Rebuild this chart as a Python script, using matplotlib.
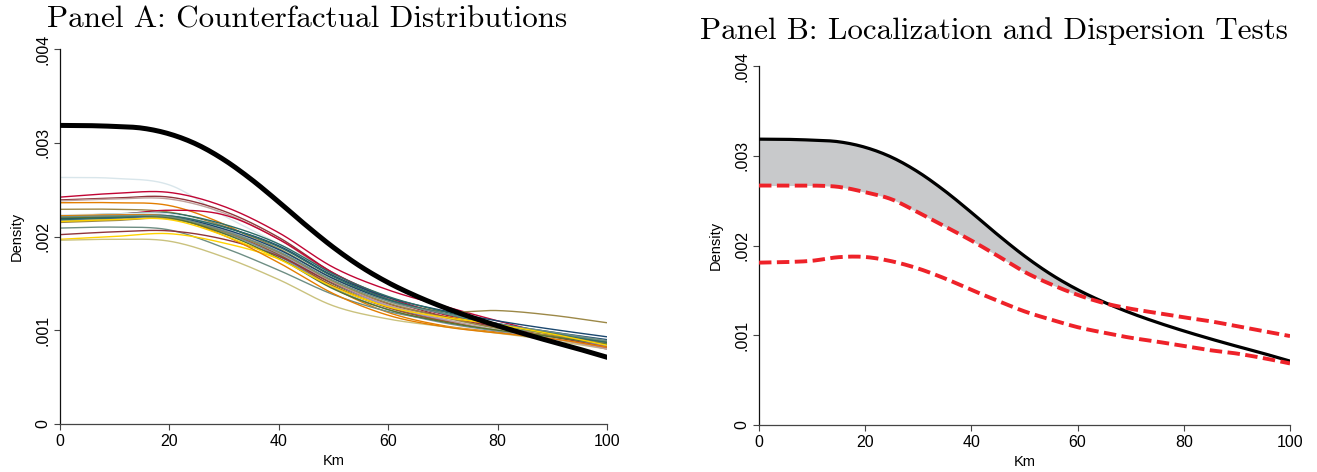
import numpy as np
import matplotlib
matplotlib.use("Agg")
import matplotlib.pyplot as plt

# ---- data (density values in units of 1e-3) ----
km_coarse = [0, 10, 20, 30, 40, 50, 60, 70, 80, 90, 100]

# Panel A: counterfactual densities (Stata s2color palette)
cf_colors = [
    "#d9e6eb", "#c10534", "#90353b", "#bfa19c", "#e37e00", "#9c8847",
    "#c10534", "#1a476f", "#55752f", "#2d6d66", "#6e8e84", "#ffd200",
    "#cac27e", "#938dd2", "#a0522d", "#7b92a8", "#d9e6eb", "#90353b",
    "#bfa19c", "#e37e00", "#9c8847", "#1a476f", "#55752f", "#2d6d66",
    "#6e8e84", "#ffd200",
]
cf_values = [
    [2.63, 2.62, 2.55, 2.22, 1.92, 1.57, 1.30, 1.13, 1.00, 0.91, 0.83],
    [2.42, 2.46, 2.47, 2.32, 2.04, 1.67, 1.43, 1.26, 1.10, 0.95, 0.81],
    [2.39, 2.41, 2.42, 2.27, 1.99, 1.61, 1.33, 1.15, 1.01, 0.93, 0.84],
    [2.38, 2.40, 2.40, 2.25, 1.97, 1.59, 1.31, 1.14, 1.00, 0.92, 0.82],
    [2.36, 2.36, 2.33, 2.13, 1.82, 1.45, 1.19, 1.05, 0.98, 0.91, 0.84],
    [2.29, 2.29, 2.26, 2.11, 1.87, 1.55, 1.33, 1.20, 1.21, 1.16, 1.08],
    [2.19, 2.23, 2.28, 2.23, 1.97, 1.61, 1.35, 1.17, 1.04, 0.93, 0.80],
    [2.21, 2.22, 2.22, 2.10, 1.90, 1.58, 1.35, 1.21, 1.10, 1.01, 0.93],
    [2.16, 2.18, 2.19, 2.04, 1.81, 1.49, 1.25, 1.11, 1.01, 0.94, 0.86],
    [2.22, 2.24, 2.25, 2.13, 1.92, 1.60, 1.36, 1.20, 1.07, 0.97, 0.88],
    [2.09, 2.10, 2.07, 1.88, 1.64, 1.38, 1.20, 1.10, 1.03, 0.96, 0.88],
    [1.97, 2.00, 2.03, 1.93, 1.76, 1.47, 1.26, 1.15, 1.06, 0.95, 0.83],
    [1.96, 1.97, 1.95, 1.78, 1.54, 1.26, 1.12, 1.04, 0.97, 0.89, 0.80],
    [2.18, 2.20, 2.21, 2.06, 1.82, 1.50, 1.26, 1.11, 1.00, 0.92, 0.84],
    [2.20, 2.21, 2.21, 2.05, 1.80, 1.47, 1.24, 1.10, 1.01, 0.94, 0.87],
    [2.17, 2.19, 2.20, 2.04, 1.79, 1.45, 1.22, 1.08, 0.99, 0.91, 0.83],
    [2.23, 2.24, 2.24, 2.09, 1.85, 1.53, 1.29, 1.13, 1.01, 0.92, 0.82],
    [2.02, 2.05, 2.06, 1.97, 1.79, 1.50, 1.28, 1.15, 1.03, 0.93, 0.82],
    [2.21, 2.22, 2.22, 2.07, 1.83, 1.51, 1.27, 1.12, 1.00, 0.91, 0.80],
    [2.22, 2.23, 2.21, 2.01, 1.72, 1.39, 1.16, 1.04, 0.97, 0.91, 0.82],
    [2.15, 2.17, 2.19, 2.05, 1.83, 1.52, 1.29, 1.14, 1.02, 0.94, 0.86],
    [2.19, 2.20, 2.21, 2.08, 1.86, 1.55, 1.32, 1.18, 1.07, 0.98, 0.90],
    [2.20, 2.21, 2.20, 2.03, 1.77, 1.44, 1.22, 1.09, 1.00, 0.93, 0.85],
    [2.18, 2.20, 2.22, 2.10, 1.89, 1.57, 1.33, 1.18, 1.06, 0.96, 0.87],
    [2.21, 2.22, 2.21, 2.06, 1.84, 1.53, 1.31, 1.18, 1.07, 0.98, 0.89],
    [2.16, 2.18, 2.18, 2.01, 1.76, 1.46, 1.25, 1.14, 1.06, 0.96, 0.84],
]

# Observed density and the global confidence band (5 km steps)
km_fine = [0, 5, 10, 15, 20, 25, 30, 35, 40, 45, 50,
           55, 60, 65, 70, 75, 80, 85, 90, 95, 100]
observed = [3.185, 3.183, 3.174, 3.156, 3.094, 2.983, 2.818, 2.608, 2.368,
            2.118, 1.883, 1.678, 1.508, 1.368, 1.248, 1.143, 1.048, 0.960,
            0.877, 0.797, 0.712]
band_upper = [2.668, 2.668, 2.668, 2.653, 2.594, 2.514, 2.367, 2.213, 2.055,
              1.883, 1.706, 1.567, 1.450, 1.358, 1.295, 1.248, 1.200, 1.156,
              1.101, 1.046, 0.991]
band_lower = [1.809, 1.815, 1.830, 1.870, 1.872, 1.824, 1.743, 1.633, 1.505,
              1.383, 1.266, 1.174, 1.090, 1.028, 0.972, 0.928, 0.881, 0.833,
              0.796, 0.745, 0.686]

y_ticks = [0, 0.001, 0.002, 0.003, 0.004]
y_ticklabels = ["0", ".001", ".002", ".003", ".004"]
x_ticks = [0, 20, 40, 60, 80, 100]


def catmull_rom(xs, ys, per_seg=30):
    """Smooth curve through the given knots."""
    xs = np.asarray(xs, float)
    ys = np.asarray(ys, float)
    px = np.concatenate([[2 * xs[0] - xs[1]], xs, [2 * xs[-1] - xs[-2]]])
    py = np.concatenate([[2 * ys[0] - ys[1]], ys, [2 * ys[-1] - ys[-2]]])
    out_x, out_y = [], []
    t = np.linspace(0, 1, per_seg, endpoint=False)
    for i in range(1, len(px) - 2):
        for p, out in ((px, out_x), (py, out_y)):
            p0, p1, p2, p3 = p[i - 1], p[i], p[i + 1], p[i + 2]
            out.append(0.5 * ((2 * p1) + (-p0 + p2) * t
                              + (2 * p0 - 5 * p1 + 4 * p2 - p3) * t ** 2
                              + (-p0 + 3 * p1 - 3 * p2 + p3) * t ** 3))
    out_x.append([xs[-1]])
    out_y.append([ys[-1]])
    return np.concatenate(out_x), np.concatenate(out_y)


plt.rcParams["font.family"] = ["Liberation Sans", "DejaVu Sans"]

fig = plt.figure(figsize=(13.17, 4.72), dpi=100)
W, H = 1317, 472


def add_axes(left, right, top, bottom):
    return fig.add_axes([left / W, 1 - bottom / H, (right - left) / W,
                         (bottom - top) / H])


def style(ax):
    ax.set_xlim(0, 100)
    ax.set_ylim(0, 0.004)
    for s in ("top", "right"):
        ax.spines[s].set_visible(False)
    ax.spines["left"].set_color("#111111")
    ax.spines["bottom"].set_color("#444444")
    ax.spines["left"].set_linewidth(0.9)
    ax.spines["bottom"].set_linewidth(0.9)
    ax.set_xticks(x_ticks)
    ax.set_yticks(y_ticks)
    ax.set_yticklabels(y_ticklabels, rotation=90, va="center")
    ax.tick_params(axis="both", direction="out", length=4, width=0.8,
                   color="#444444", labelsize=11.5, pad=3)
    ax.set_xlabel("Km", fontsize=10.5, labelpad=4)
    ax.set_ylabel("Density", fontsize=10.5, labelpad=8)


# Panel A
axA = add_axes(60, 607, 49, 424)
style(axA)
for col, vals in zip(cf_colors, cf_values):
    cx, cy = catmull_rom(km_coarse, np.array(vals) / 1000)
    axA.plot(cx, cy, color=col, lw=1.0, solid_capstyle="butt")
ox, oy = catmull_rom(km_fine, np.array(observed) / 1000, per_seg=12)
axA.plot(ox, oy, color="black", lw=3.6, zorder=5)

# Panel B
axB = add_axes(759, 1290, 66, 425)
style(axB)
ux, uy = catmull_rom(km_fine, np.array(band_upper) / 1000, per_seg=12)
lx, ly = catmull_rom(km_fine, np.array(band_lower) / 1000, per_seg=12)
axB.fill_between(ox, oy, uy, where=oy >= uy, interpolate=True,
                 color="#c8c9cb", lw=0, zorder=1)
axB.plot(ox, oy, color="black", lw=2.3, zorder=3)
for yy in (uy, ly):
    axB.plot(ux, yy, color="#ee2229", lw=2.8, dashes=(3.2, 1.4), zorder=4)

fig.text(47 / W, 1 - 6 / H, "Panel A: Counterfactual Distributions",
         family="cmr10", fontsize=22.4, va="top", ha="left")
fig.text(700 / W, 1 - 17 / H, "Panel B: Localization and Dispersion Tests",
         family="cmr10", fontsize=22.4, va="top", ha="left")

fig.savefig("out.png", dpi=100)
